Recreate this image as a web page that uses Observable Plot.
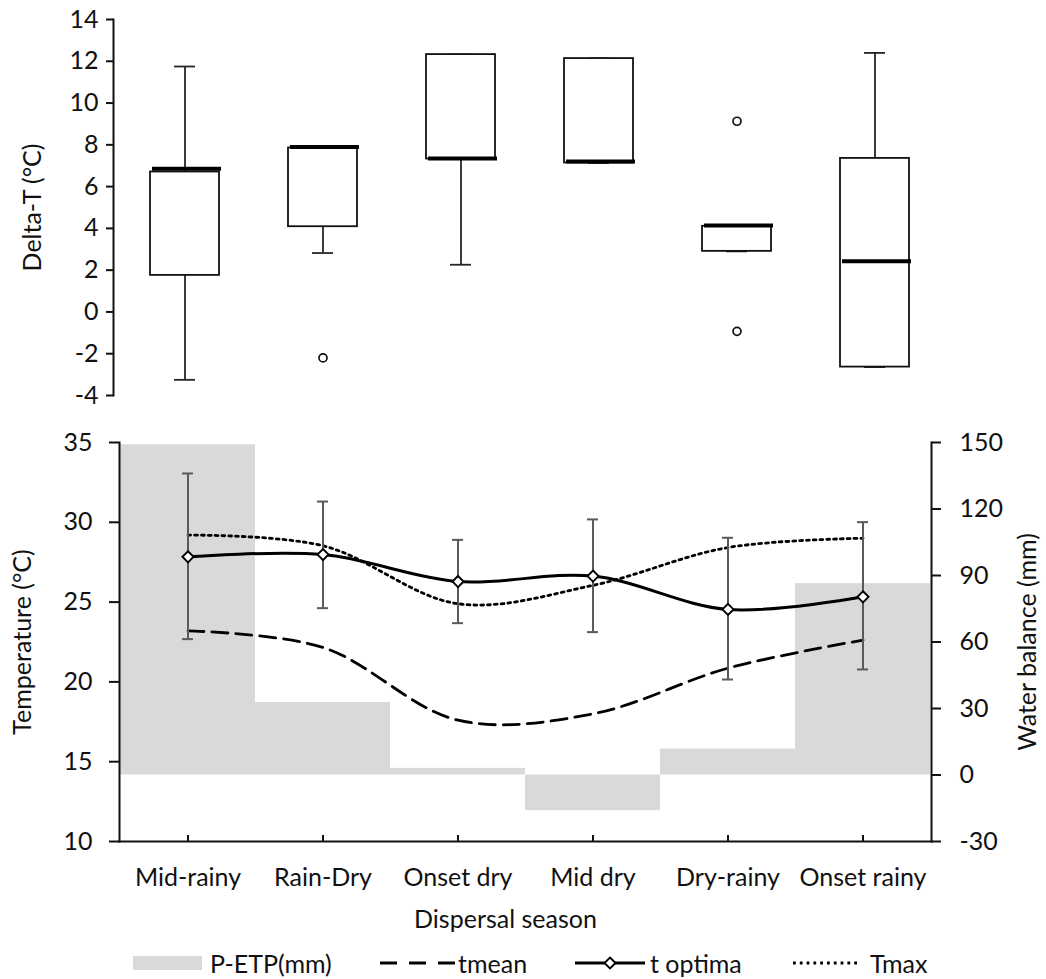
<!DOCTYPE html>
<html>
<head>
<meta charset="utf-8">
<script src="https://cdn.jsdelivr.net/npm/d3@7"></script>
<script src="https://cdn.jsdelivr.net/npm/@observablehq/plot@0.6"></script>
<style>
  body { margin: 0; background: #fff; font-family: Lato, sans-serif; color: #111; }
  #chart { width: 1046px; position: relative; }
  #chart svg { display: block; }
  .legend { position: relative; width: 1046px; height: 40px; font-size: 25px; }
  .legend .item { position: absolute; top: 0; height: 40px; display: flex; align-items: center; white-space: nowrap; }
  .legend svg { display: block; }
</style>
</head>
<body>
<div id="chart"></div>
<script>
// ---------- data ----------
const seasons = ["Mid-rainy", "Rain-Dry", "Onset dry", "Mid dry", "Dry-rainy", "Onset rainy"];

// Top panel: Delta-T box plots (°C)
const boxMin    = [-3.25, 2.82, 2.26, 7.13, 2.90, -2.64];
const boxQ1     = [ 1.75, 4.08, 7.32, 7.13, 2.90, -2.64];
const boxMedian = [ 6.85, 7.90, 7.35, 7.20, 4.14,  2.43];
const boxQ3     = [ 6.70, 7.85, 12.32, 12.13, 4.10, 7.35];
const boxMax    = [11.75, 7.85, 12.32, 12.13, 4.10, 12.40];
const outlierSeason = ["Rain-Dry", "Dry-rainy", "Dry-rainy"];
const outlierValue  = [-2.2, 9.13, -0.93];
const deltaTicks = [-4, -2, 0, 2, 4, 6, 8, 10, 12, 14];

// Bottom panel
const waterBalance = [149, 32.7, 3.0, -16.1, 11.7, 86.3];     // P-ETP (mm)
const tmean   = [23.2, 22.16, 17.6, 18.0, 20.86, 22.62];      // °C
const tmax    = [29.2, 28.53, 24.9, 26.05, 28.42, 29.0];      // °C
const tOptima = [27.84, 27.98, 26.29, 26.63, 24.54, 25.33];   // °C
const tOptLow  = [22.68, 24.62, 23.68, 23.12, 20.15, 20.78];
const tOptHigh = [33.06, 31.30, 28.90, 30.18, 29.03, 30.01];
const tempTicks = [10, 15, 20, 25, 30, 35];
const wbTicks = [-30, 0, 30, 60, 90, 120, 150];

const legendLabels = ["P-ETP(mm)", "tmean", "t optima", "Tmax"];

// ---------- tables built from arrays ----------
const boxes = seasons.map((s, i) => ({season: s, min: boxMin[i], q1: boxQ1[i], median: boxMedian[i], q3: boxQ3[i], max: boxMax[i]}));
const outliers = outlierSeason.map((s, i) => ({season: s, value: outlierValue[i]}));
const temps = seasons.map((s, i) => ({season: s, wb: waterBalance[i], tmean: tmean[i], tmax: tmax[i], topt: tOptima[i], lo: tOptLow[i], hi: tOptHigh[i]}));

// secondary axis mapping: water balance [-30,150] onto temperature [10,35]
const toT = wb => 10 + (wb + 30) * 25 / 180;
const fromT = t => (t - 10) * 180 / 25 - 30;

const ink = "#111";
const font = {fontFamily: "Lato, sans-serif", fontSize: "25px", color: ink, background: "white", overflow: "visible"};

// ---------- top panel ----------
const topPlot = Plot.plot({
  width: 1046, height: 412,
  marginLeft: 113, marginRight: 101, marginTop: 19, marginBottom: 17,
  style: font,
  x: {domain: seasons, paddingInner: 0.5, paddingOuter: 0.25, axis: null},
  y: {domain: [-4, 14]},
  marks: [
    Plot.axisY({ticks: deltaTicks, tickFormat: d => String(d), tickSize: 7, tickPadding: 8, strokeWidth: 2,
      label: "Delta-T (°C)", labelAnchor: "center", labelOffset: 90, labelArrow: "none"}),
    Plot.frame({anchor: "left", stroke: ink, strokeWidth: 2}),
    Plot.ruleX(boxes, {x: "season", y1: "q3", y2: "max", stroke: "#262626", strokeWidth: 1.8}),
    Plot.ruleX(boxes, {x: "season", y1: "min", y2: "q1", stroke: "#262626", strokeWidth: 1.8}),
    Plot.tickY(boxes, {x: "season", y: "max", insetLeft: 24, insetRight: 24, stroke: "#262626", strokeWidth: 1.8}),
    Plot.tickY(boxes, {x: "season", y: "min", insetLeft: 24, insetRight: 24, stroke: "#262626", strokeWidth: 1.8}),
    Plot.barY(boxes, {x: "season", y1: "q1", y2: "q3", fill: "white", stroke: "#111", strokeWidth: 1.8}),
    Plot.tickY(boxes, {x: "season", y: "median", stroke: "#000", strokeWidth: 4, dx: 2}),
    Plot.dot(outliers, {x: "season", y: "value", r: 4, fill: "white", stroke: "#111", strokeWidth: 1.7})
  ]
});

// ---------- bottom panel ----------
const bottomPlot = Plot.plot({
  width: 1046, height: 531,
  marginLeft: 119, marginRight: 115, marginTop: 30, marginBottom: 102,
  style: font,
  x: {domain: seasons, padding: 0, axis: null},
  y: {domain: [10, 35]},
  marks: [
    Plot.barY(temps, {x: "season", y1: d => toT(0), y2: d => toT(d.wb), fill: "#d9d9d9", inset: 0}),
    Plot.axisY({ticks: tempTicks, tickFormat: d => String(d), tickSize: 10, tickPadding: 17, strokeWidth: 2,
      label: "Temperature (°C)", labelAnchor: "center", labelOffset: 106, labelArrow: "none"}),
    Plot.axisY({anchor: "right", ticks: wbTicks.map(toT), tickFormat: t => String(Math.round(fromT(t))),
      tickSize: 9, tickPadding: 19, strokeWidth: 2,
      label: "Water balance (mm)", labelAnchor: "center", labelOffset: 104, labelArrow: "none"}),
    Plot.axisX({tickSize: 0, tickPadding: 27, label: null}),
    Plot.ruleX(seasons, {x: d => d, y1: () => 10, y2: () => 10, insetBottom: 6, stroke: ink, strokeWidth: 2}),
    Plot.frame({anchor: "left", stroke: ink, strokeWidth: 2}),
    Plot.frame({anchor: "right", stroke: ink, strokeWidth: 2}),
    Plot.frame({anchor: "bottom", stroke: ink, strokeWidth: 2}),
    Plot.text(["Dispersal season"], {frameAnchor: "bottom", dx: -20, dy: 69, lineAnchor: "top", fill: ink}),
    Plot.line(temps, {x: "season", y: "tmean", curve: "catmull-rom", stroke: "#000", strokeWidth: 2.8, strokeDasharray: "16,8"}),
    Plot.line(temps, {x: "season", y: "tmax", curve: "catmull-rom", stroke: "#000", strokeWidth: 2.8, strokeDasharray: "2.8,4"}),
    Plot.ruleX(temps, {x: "season", y1: "lo", y2: "hi", stroke: "#5a5a5a", strokeWidth: 2}),
    Plot.tickY(temps, {x: "season", y: "hi", insetLeft: 62, insetRight: 62, stroke: "#5a5a5a", strokeWidth: 2}),
    Plot.tickY(temps, {x: "season", y: "lo", insetLeft: 62, insetRight: 62, stroke: "#5a5a5a", strokeWidth: 2}),
    Plot.line(temps, {x: "season", y: "topt", curve: "catmull-rom", stroke: "#000", strokeWidth: 3}),
    Plot.dot(temps, {x: "season", y: "topt", symbol: "diamond2", r: 5, fill: "white", stroke: "#000", strokeWidth: 1.9})
  ]
});

const chart = document.getElementById("chart");
chart.appendChild(topPlot);
chart.appendChild(bottomPlot);

// ---------- legend ----------
const legend = document.createElement("div");
legend.className = "legend";
const sym = [
  `<svg width="69" height="14"><rect x="0" y="0" width="69" height="14" fill="#d9d9d9"/></svg>`,
  `<svg width="75" height="14"><line x1="0" y1="7" x2="75" y2="7" stroke="#000" stroke-width="2.8" stroke-dasharray="17,12"/></svg>`,
  `<svg width="70" height="14"><line x1="0" y1="7" x2="70" y2="7" stroke="#000" stroke-width="3"/><path d="M35,1.5L40.5,7L35,12.5L29.5,7Z" fill="#fff" stroke="#000" stroke-width="1.9"/></svg>`,
  `<svg width="66" height="14"><line x1="0" y1="7" x2="66" y2="7" stroke="#000" stroke-width="2.8" stroke-dasharray="2.8,4"/></svg>`
];
const lefts = [133, 380, 575, 793];
const gaps = [8, 3, 5, 11];
legendLabels.forEach((lab, i) => {
  const it = document.createElement("div");
  it.className = "item";
  it.style.left = lefts[i] + "px";
  it.innerHTML = sym[i] + `<span style="margin-left:${gaps[i]}px">${lab}</span>`;
  legend.appendChild(it);
});
chart.appendChild(legend);
</script>
</body>
</html>
